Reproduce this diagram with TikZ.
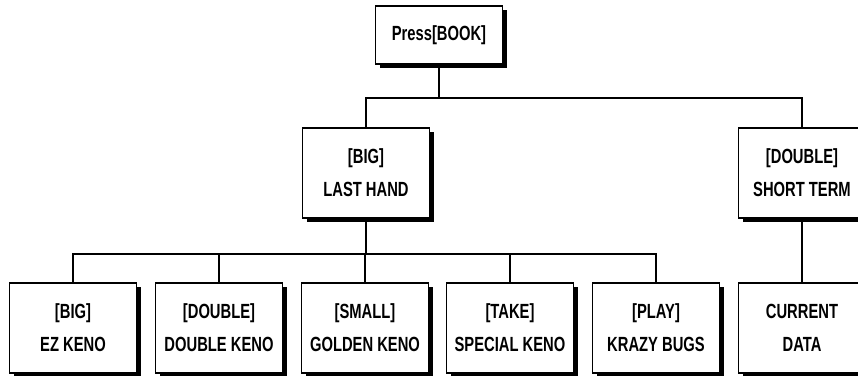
\documentclass[tikz,border=0pt]{standalone}
\usepackage{fontspec}
\setmainfont{Liberation Sans}[FakeStretch=0.72,BoldFont={Liberation Sans Bold}]
\usetikzlibrary{shadows}
\begin{document}
\begin{tikzpicture}[x=1pt,y=-1pt,
  box/.style={draw=black, line width=1.4pt, fill=white, minimum width=127pt,
    inner sep=0pt, align=center,
    font={\fontsize{20.5}{33}\selectfont\bfseries},
    drop shadow={shadow xshift=4pt, shadow yshift=-4pt, fill=black, opacity=1}},
  tallbox/.style={box, minimum height=90pt},
  conn/.style={line width=1.4pt}]
\useasboundingbox (0,0) rectangle (858,375);
\clip (0,0) rectangle (858,375);
\fill[white] (0,0) rectangle (858,375);
\node[box, minimum height=58pt] (press) at (439,35) {Press[BOOK]};
\node[tallbox] (lh) at (366,173) {[BIG]\\LAST HAND};
\node[tallbox] (st) at (802,173) {[DOUBLE]\\SHORT TERM};
\node[tallbox] (b1) at (73,328) {[BIG]\\EZ KENO};
\node[tallbox] (b2) at (219,328) {[DOUBLE]\\DOUBLE KENO};
\node[tallbox] (b3) at (365,328) {[SMALL]\\GOLDEN KENO};
\node[tallbox] (b4) at (510,328) {[TAKE]\\SPECIAL KENO};
\node[tallbox] (b5) at (656,328) {[PLAY]\\KRAZY BUGS};
\node[tallbox] (b6) at (802,328) {CURRENT\\DATA};
\coordinate (j1) at (439,98);
\coordinate (j2) at (366,254);
\draw[conn] (press.south) -- (j1);
\draw[conn] (lh.north) |- (j1) -| (st.north);
\draw[conn] (lh.south) -- (j2);
\draw[conn] (b1.north) |- (j2) -| (b5.north);
\draw[conn] (b2.north) -- (b2.north |- j2);
\draw[conn] (b3.north) -- (b3.north |- j2);
\draw[conn] (b4.north) -- (b4.north |- j2);
\draw[conn] (st.south) -- (b6.north);
\end{tikzpicture}
\end{document}
